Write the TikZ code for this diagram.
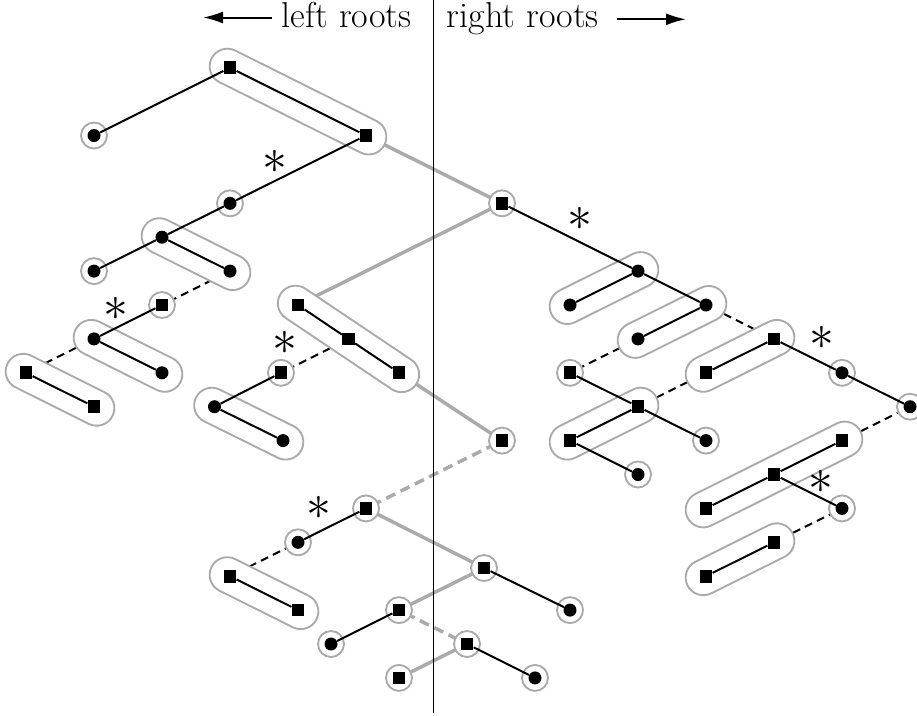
\documentclass[tikz,border=0pt]{standalone}
\usetikzlibrary{shapes.misc,calc,arrows.meta}
\pgfdeclarelayer{edges}
\pgfdeclarelayer{groups}
\pgfsetlayers{edges,groups,main}
\definecolor{ringgray}{RGB}{170,170,170}
\tikzset{
  sq/.style={rectangle, fill=black, minimum size=9.5pt, inner sep=0pt},
  dt/.style={circle, fill=black, minimum size=9.75pt, inner sep=0pt},
  ring/.style={circle, draw=ringgray, fill=white, line width=1.4pt, minimum size=19.5pt, inner sep=0pt},
  grp/.style={rounded rectangle, draw=ringgray, fill=white, line width=1.4pt, minimum height=26.5pt, inner sep=0pt},
  edge/.style={line width=1.5pt},
  dedge/.style={line width=1.5pt, dash pattern=on 6pt off 4pt},
  gedge/.style={ringgray, line width=2.6pt},
  gdedge/.style={ringgray, line width=2.6pt, dash pattern=on 7.5pt off 4.5pt},
  star/.style={font=\fontsize{24.88}{30}\selectfont, inner sep=0pt},
  lbl/.style={font=\fontsize{27}{32}\selectfont, inner sep=0pt, anchor=base west},
  arr/.style={line width=1.5pt, -{Latex[length=15pt,width=9pt]}}
}
\newcommand{\grpnode}[3]{%
  \path let \p1=(#2), \p2=(#3), \n1={atan2(\y2-\y1,\x2-\x1)}, \n2={veclen(\x2-\x1,\y2-\y1)} in
    node[grp, rotate=\n1, minimum width=\n2+31] (#1) at ($(#2)!0.5!(#3)$) {};}
\newcommand{\ringnode}[1]{\node[ring] (r#1) at (#1) {};}
\newcommand{\bigast}{\scalebox{1.5}{$\ast$}}
\begin{document}
\begin{tikzpicture}[x=0.75pt,y=-0.75pt]
\useasboundingbox (0,0) rectangle (917,715);
% inner nodes
\node[sq] (A) at (230,67.7) {};
\node[dt] (B) at (94,135.5) {};
\node[sq] (C) at (366,135.5) {};
\node[dt] (D) at (230,203.3) {};
\node[dt] (E) at (162,237.2) {};
\node[dt] (F) at (94,271.1) {};
\node[dt] (G) at (230,271.1) {};
\node[sq] (H) at (162,305) {};
\node[dt] (I) at (94,338.9) {};
\node[dt] (J) at (162,372.8) {};
\node[sq] (K) at (26,372.8) {};
\node[sq] (L) at (94,406.7) {};
\node[sq] (M) at (298,305) {};
\node[sq] (N) at (348.5,339) {};
\node[sq] (O) at (399,372.8) {};
\node[sq] (P) at (281,372.8) {};
\node[dt] (Q) at (214.5,406.7) {};
\node[dt] (R) at (283,440.6) {};
\node[sq] (S) at (502,203.3) {};
\node[dt] (T) at (638,271.1) {};
\node[dt] (U) at (570,305) {};
\node[dt] (V) at (706,305) {};
\node[dt] (W) at (638,338.9) {};
\node[sq] (X) at (774,338.9) {};
\node[sq] (Y) at (570,372.8) {};
\node[sq] (Z) at (706,372.8) {};
\node[dt] (AA) at (842,372.8) {};
\node[sq] (AB) at (638,406.7) {};
\node[dt] (AC) at (910,406.7) {};
\node[sq] (AD) at (502,440.6) {};
\node[sq] (AE) at (570,440.6) {};
\node[dt] (AF) at (706,440.6) {};
\node[dt] (AG) at (638,474.5) {};
\node[sq] (AH) at (842,440.6) {};
\node[sq] (AI) at (774,474.5) {};
\node[sq] (AJ) at (706,508.4) {};
\node[dt] (AK) at (842,508.4) {};
\node[sq] (AL) at (774,542.3) {};
\node[sq] (AM) at (706,576.2) {};
\node[sq] (BA) at (366,508.4) {};
\node[dt] (BB) at (298,542.3) {};
\node[sq] (BC) at (230,576.2) {};
\node[sq] (BD) at (298,610.1) {};
\node[sq] (BE) at (484,568) {};
\node[dt] (BF) at (570,610.1) {};
\node[sq] (BG) at (399,610.1) {};
\node[dt] (BH) at (331,644) {};
\node[sq] (BI) at (467,644) {};
\node[sq] (BJ) at (399,677.9) {};
\node[dt] (BK) at (535,677.9) {};
% groups
\begin{pgfonlayer}{groups}
\foreach \n in {B,D,F,H,P,S,Y,AA,AC,AD,AF,AG,AK,BA,BB,BE,BF,BG,BH,BI,BJ,BK} {\ringnode{\n}}
\grpnode{gAC}{A}{C}
\grpnode{gEG}{E}{G}
\grpnode{gIJ}{I}{J}
\grpnode{gKL}{K}{L}
\grpnode{gMO}{M}{O}
\grpnode{gQR}{Q}{R}
\grpnode{gUT}{U}{T}
\grpnode{gWV}{W}{V}
\grpnode{gZX}{Z}{X}
\grpnode{gAEAB}{AE}{AB}
\grpnode{gAJAH}{AJ}{AH}
\grpnode{gAMAL}{AM}{AL}
\grpnode{gBCBD}{BC}{BD}
\end{pgfonlayer}
% edges between groups
\begin{pgfonlayer}{edges}
\draw[dedge] (G) -- (H);
\draw[dedge] (I) -- (K);
\draw[dedge] (N) -- (P);
\draw[dedge] (V) -- (X);
\draw[dedge] (W) -- (Y);
\draw[dedge] (AB) -- (Z);
\draw[dedge] (AC) -- (AH);
\draw[dedge] (AK) -- (AL);
\draw[dedge] (BB) -- (BC);
\draw[gedge] (C) -- (S);
\draw[gedge] (M) -- (S);
\draw[gedge] (O) -- (AD);
\draw[gedge] (BA) -- (BE);
\draw[gedge] (BE) -- (BG);
\draw[gedge] (BI) -- (BJ);
\draw[gdedge] (AD) -- (BA);
\draw[gdedge] (BG) -- (BI);
\end{pgfonlayer}
% black edges
\foreach \a/\b in {A/B,A/C,C/D,D/E,E/F,E/G,H/I,I/J,K/L,M/N,N/O,P/Q,Q/R,S/T,T/U,T/V,V/W,X/Z,X/AA,AA/AC,Y/AB,AB/AE,AB/AF,AE/AG,AH/AI,AI/AJ,AI/AK,AL/AM,BA/BB,BC/BD,BE/BF,BG/BH,BI/BK}
  {\draw[edge] (\a) -- (\b);}
% stars
\node[star] (s1) at (275.3,162.3) {\bigast};
\node[star] (s2) at (115.7,309.3) {\bigast};
\node[star] (s3) at (285,343.3) {\bigast};
\node[star] (s4) at (580,219) {\bigast};
\node[star] (s5) at (822,338) {\bigast};
\node[star] (s6) at (820.7,481.7) {\bigast};
\node[star] (s7) at (319.3,507.7) {\bigast};
% header
\node[lbl] (lr) at (281.7,27.7) {left roots};
\node[lbl] (rr) at (446.7,27.7) {right roots};
\coordinate (la) at (272,17.5);
\coordinate (lb) at (203,17.5);
\coordinate (ra) at (617,19.3);
\coordinate (rb) at (686,19.3);
\draw[arr] (la) -- (lb);
\draw[arr] (ra) -- (rb);
\coordinate (vt) at (433.3,0);
\coordinate (vb) at (433.3,713);
\draw[line width=1.1pt] (vt) -- (vb);
\end{tikzpicture}
\end{document}
